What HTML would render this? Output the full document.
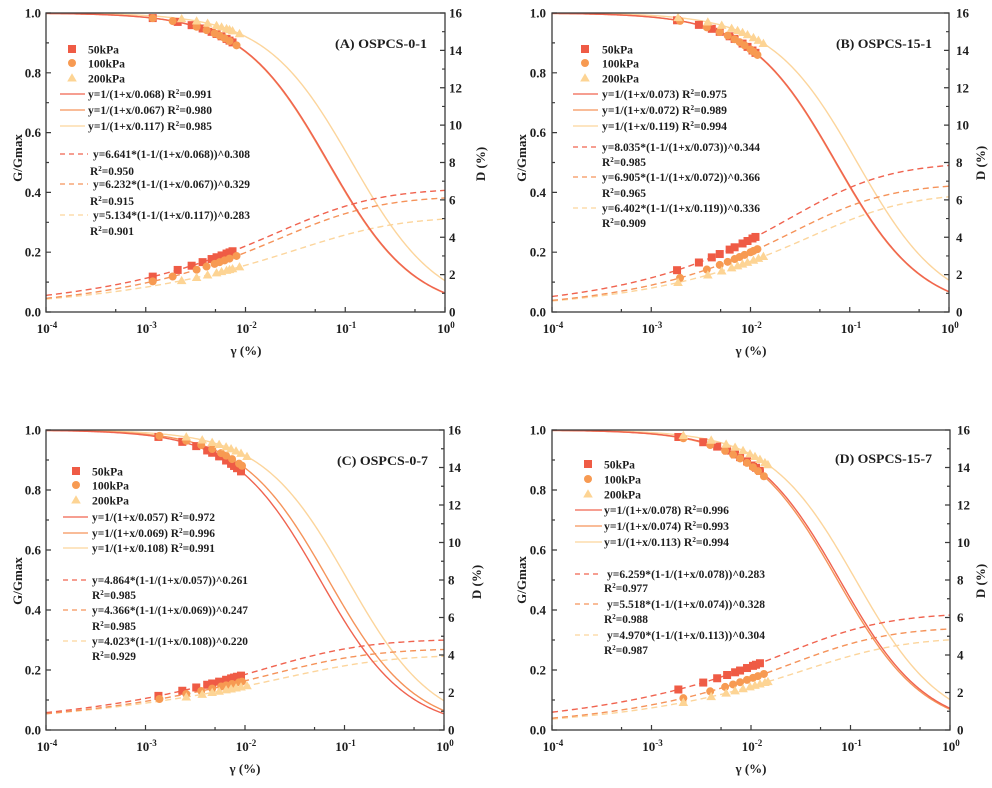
<!DOCTYPE html>
<html>
<head>
<meta charset="utf-8">
<style>
html,body{margin:0;padding:0;background:#fff;}
svg{display:block;}
text{font-family:"Liberation Serif",serif;font-weight:bold;fill:#1e1e1e;}
.tk{font-size:13px;}
.lg{font-size:11.5px;}
.ti{font-size:13px;}
.al{font-size:13px;}
</style>
</head>
<body>
<svg id="c" width="992" height="788" viewBox="0 0 992 788" xmlns="http://www.w3.org/2000/svg">
<rect x="0" y="0" width="992" height="788" fill="#fff"/>
<g id="plots"></g>

<!-- ===== Plot A ===== -->
<g class="tk" text-anchor="end">
<text x="41" y="17.5">1.0</text><text x="41" y="77.3">0.8</text><text x="41" y="137.1">0.6</text>
<text x="41" y="196.9">0.4</text><text x="41" y="256.7">0.2</text><text x="41" y="316.5">0.0</text>
</g>
<g class="tk">
<text x="449" y="17.5">16</text><text x="449" y="54.9">14</text><text x="449" y="92.3">12</text>
<text x="449" y="129.6">10</text><text x="449" y="167">8</text><text x="449" y="204.4">6</text>
<text x="449" y="241.8">4</text><text x="449" y="279.1">2</text><text x="449" y="316.5">0</text>
</g>
<g class="tk" text-anchor="middle">
<text x="47" y="333">10<tspan dy="-5" font-size="9">-4</tspan></text>
<text x="146.5" y="333">10<tspan dy="-5" font-size="9">-3</tspan></text>
<text x="246.5" y="333">10<tspan dy="-5" font-size="9">-2</tspan></text>
<text x="346" y="333">10<tspan dy="-5" font-size="9">-1</tspan></text>
<text x="446" y="333">10<tspan dy="-5" font-size="9">0</tspan></text>
</g>
<text class="al" x="246" y="355" text-anchor="middle">γ (%)</text>
<text class="al" transform="translate(22,158) rotate(-90)" text-anchor="middle">G/Gmax</text>
<text class="al" transform="translate(485,164) rotate(-90)" text-anchor="middle">D (%)</text>
<text class="ti" x="335" y="48" textLength="92" lengthAdjust="spacingAndGlyphs">(A) OSPCS-0-1</text>
<g class="lg">
<rect x="68" y="45" width="8" height="8" fill="#EF5B45"/>
<circle cx="72" cy="63" r="4" fill="#F79A52"/>
<polygon points="72,73.2 76.8,81.5 67.2,81.5" fill="#FDD494"/>
<text x="88" y="53.5" textLength="31" lengthAdjust="spacingAndGlyphs">50kPa</text><text x="88" y="67.5" textLength="37" lengthAdjust="spacingAndGlyphs">100kPa</text><text x="88" y="82.5" textLength="37" lengthAdjust="spacingAndGlyphs">200kPa</text>
<line x1="60" y1="94" x2="85" y2="94" stroke="#F0634F" stroke-width="1.3"/>
<line x1="60" y1="110" x2="85" y2="110" stroke="#F5935A" stroke-width="1.3"/>
<line x1="60" y1="126" x2="85" y2="126" stroke="#FCD59C" stroke-width="1.3"/>
<text x="88" y="98" textLength="124" lengthAdjust="spacingAndGlyphs">y=1/(1+x/0.068) R<tspan dy="-4" font-size="7">2</tspan><tspan dy="4">=0.991</tspan></text>
<text x="88" y="114" textLength="124" lengthAdjust="spacingAndGlyphs">y=1/(1+x/0.067) R<tspan dy="-4" font-size="7">2</tspan><tspan dy="4">=0.980</tspan></text>
<text x="88" y="130" textLength="124" lengthAdjust="spacingAndGlyphs">y=1/(1+x/0.117) R<tspan dy="-4" font-size="7">2</tspan><tspan dy="4">=0.985</tspan></text>
<line x1="60" y1="154" x2="88" y2="154" stroke="#F0634F" stroke-width="1.3" stroke-dasharray="5,4"/>
<line x1="60" y1="184" x2="88" y2="184" stroke="#F5935A" stroke-width="1.3" stroke-dasharray="5,4"/>
<line x1="60" y1="215" x2="88" y2="215" stroke="#FCD59C" stroke-width="1.3" stroke-dasharray="5,4"/>
<text x="93" y="158" textLength="157" lengthAdjust="spacingAndGlyphs">y=6.641*(1-1/(1+x/0.068))^0.308</text>
<text x="90" y="175" textLength="44" lengthAdjust="spacingAndGlyphs">R<tspan dy="-4" font-size="7">2</tspan><tspan dy="4">=0.950</tspan></text>
<text x="93" y="188" textLength="157" lengthAdjust="spacingAndGlyphs">y=6.232*(1-1/(1+x/0.067))^0.329</text>
<text x="90" y="205" textLength="44" lengthAdjust="spacingAndGlyphs">R<tspan dy="-4" font-size="7">2</tspan><tspan dy="4">=0.915</tspan></text>
<text x="93" y="219" textLength="157" lengthAdjust="spacingAndGlyphs">y=5.134*(1-1/(1+x/0.117))^0.283</text>
<text x="90" y="235" textLength="44" lengthAdjust="spacingAndGlyphs">R<tspan dy="-4" font-size="7">2</tspan><tspan dy="4">=0.901</tspan></text>
</g>

<!-- ===== Plot B ===== -->
<g class="tk" text-anchor="end">
<text x="546" y="17.5">1.0</text><text x="546" y="77.3">0.8</text><text x="546" y="137.1">0.6</text>
<text x="546" y="196.9">0.4</text><text x="546" y="256.7">0.2</text><text x="546" y="316.5">0.0</text>
</g>
<g class="tk">
<text x="956" y="17.5">16</text><text x="956" y="54.9">14</text><text x="956" y="92.3">12</text>
<text x="956" y="129.6">10</text><text x="956" y="167">8</text><text x="956" y="204.4">6</text>
<text x="956" y="241.8">4</text><text x="956" y="279.1">2</text><text x="956" y="316.5">0</text>
</g>
<g class="tk" text-anchor="middle">
<text x="553" y="333">10<tspan dy="-5" font-size="9">-4</tspan></text>
<text x="652" y="333">10<tspan dy="-5" font-size="9">-3</tspan></text>
<text x="751.5" y="333">10<tspan dy="-5" font-size="9">-2</tspan></text>
<text x="851" y="333">10<tspan dy="-5" font-size="9">-1</tspan></text>
<text x="950" y="333">10<tspan dy="-5" font-size="9">0</tspan></text>
</g>
<text class="al" x="751" y="355" text-anchor="middle">γ (%)</text>
<text class="al" transform="translate(526,158) rotate(-90)" text-anchor="middle">G/Gmax</text>
<text class="al" transform="translate(985,163) rotate(-90)" text-anchor="middle">D (%)</text>
<text class="ti" x="836" y="48" textLength="96" lengthAdjust="spacingAndGlyphs">(B) OSPCS-15-1</text>
<g class="lg">
<rect x="581" y="45" width="8" height="8" fill="#EF5B45"/>
<circle cx="585" cy="63" r="4" fill="#F79A52"/>
<polygon points="585,73.2 589.8,81.5 580.2,81.5" fill="#FDD494"/>
<text x="602" y="53.5" textLength="31" lengthAdjust="spacingAndGlyphs">50kPa</text><text x="602" y="67.5" textLength="37" lengthAdjust="spacingAndGlyphs">100kPa</text><text x="602" y="82.5" textLength="37" lengthAdjust="spacingAndGlyphs">200kPa</text>
<line x1="573" y1="94" x2="598" y2="94" stroke="#F0634F" stroke-width="1.3"/>
<line x1="573" y1="110" x2="598" y2="110" stroke="#F5935A" stroke-width="1.3"/>
<line x1="573" y1="126" x2="598" y2="126" stroke="#FCD59C" stroke-width="1.3"/>
<text x="602" y="98" textLength="125" lengthAdjust="spacingAndGlyphs">y=1/(1+x/0.073) R<tspan dy="-4" font-size="7">2</tspan><tspan dy="4">=0.975</tspan></text>
<text x="602" y="114" textLength="125" lengthAdjust="spacingAndGlyphs">y=1/(1+x/0.072) R<tspan dy="-4" font-size="7">2</tspan><tspan dy="4">=0.989</tspan></text>
<text x="602" y="130" textLength="125" lengthAdjust="spacingAndGlyphs">y=1/(1+x/0.119) R<tspan dy="-4" font-size="7">2</tspan><tspan dy="4">=0.994</tspan></text>
<line x1="573" y1="147" x2="598" y2="147" stroke="#F0634F" stroke-width="1.3" stroke-dasharray="5,4"/>
<line x1="573" y1="177" x2="598" y2="177" stroke="#F5935A" stroke-width="1.3" stroke-dasharray="5,4"/>
<line x1="573" y1="208" x2="598" y2="208" stroke="#FCD59C" stroke-width="1.3" stroke-dasharray="5,4"/>
<text x="602" y="151" textLength="158" lengthAdjust="spacingAndGlyphs">y=8.035*(1-1/(1+x/0.073))^0.344</text>
<text x="602" y="166" textLength="44" lengthAdjust="spacingAndGlyphs">R<tspan dy="-4" font-size="7">2</tspan><tspan dy="4">=0.985</tspan></text>
<text x="602" y="181" textLength="158" lengthAdjust="spacingAndGlyphs">y=6.905*(1-1/(1+x/0.072))^0.366</text>
<text x="602" y="197" textLength="44" lengthAdjust="spacingAndGlyphs">R<tspan dy="-4" font-size="7">2</tspan><tspan dy="4">=0.965</tspan></text>
<text x="602" y="212" textLength="158" lengthAdjust="spacingAndGlyphs">y=6.402*(1-1/(1+x/0.119))^0.336</text>
<text x="602" y="227" textLength="44" lengthAdjust="spacingAndGlyphs">R<tspan dy="-4" font-size="7">2</tspan><tspan dy="4">=0.909</tspan></text>
</g>

<!-- ===== Plot C ===== -->
<g class="tk" text-anchor="end">
<text x="41" y="434.5">1.0</text><text x="41" y="494.5">0.8</text><text x="41" y="554.5">0.6</text>
<text x="41" y="614.5">0.4</text><text x="41" y="674.5">0.2</text><text x="41" y="734.5">0.0</text>
</g>
<g class="tk">
<text x="448" y="434.5">16</text><text x="448" y="472">14</text><text x="448" y="509.5">12</text>
<text x="448" y="547">10</text><text x="448" y="584.5">8</text><text x="448" y="622">6</text>
<text x="448" y="659.5">4</text><text x="448" y="697">2</text><text x="448" y="734.5">0</text>
</g>
<g class="tk" text-anchor="middle">
<text x="47" y="751">10<tspan dy="-5" font-size="9">-4</tspan></text>
<text x="146.5" y="751">10<tspan dy="-5" font-size="9">-3</tspan></text>
<text x="246" y="751">10<tspan dy="-5" font-size="9">-2</tspan></text>
<text x="345.5" y="751">10<tspan dy="-5" font-size="9">-1</tspan></text>
<text x="445" y="751">10<tspan dy="-5" font-size="9">0</tspan></text>
</g>
<text class="al" x="245" y="773" text-anchor="middle">γ (%)</text>
<text class="al" transform="translate(22,581) rotate(-90)" text-anchor="middle">G/Gmax</text>
<text class="al" transform="translate(481,582) rotate(-90)" text-anchor="middle">D (%)</text>
<text class="ti" x="337" y="465" textLength="91" lengthAdjust="spacingAndGlyphs">(C) OSPCS-0-7</text>
<g class="lg">
<rect x="72" y="467" width="8" height="8" fill="#EF5B45"/>
<circle cx="76" cy="485" r="4" fill="#F79A52"/>
<polygon points="76,495.2 80.8,503.5 71.2,503.5" fill="#FDD494"/>
<text x="92" y="475.5" textLength="31" lengthAdjust="spacingAndGlyphs">50kPa</text><text x="92" y="489.5" textLength="37" lengthAdjust="spacingAndGlyphs">100kPa</text><text x="92" y="504.5" textLength="37" lengthAdjust="spacingAndGlyphs">200kPa</text>
<line x1="63" y1="517" x2="88" y2="517" stroke="#F0634F" stroke-width="1.3"/>
<line x1="63" y1="533" x2="88" y2="533" stroke="#F5935A" stroke-width="1.3"/>
<line x1="63" y1="548" x2="88" y2="548" stroke="#FCD59C" stroke-width="1.3"/>
<text x="92" y="521" textLength="123" lengthAdjust="spacingAndGlyphs">y=1/(1+x/0.057) R<tspan dy="-4" font-size="7">2</tspan><tspan dy="4">=0.972</tspan></text>
<text x="92" y="537" textLength="123" lengthAdjust="spacingAndGlyphs">y=1/(1+x/0.069) R<tspan dy="-4" font-size="7">2</tspan><tspan dy="4">=0.996</tspan></text>
<text x="92" y="552" textLength="123" lengthAdjust="spacingAndGlyphs">y=1/(1+x/0.108) R<tspan dy="-4" font-size="7">2</tspan><tspan dy="4">=0.991</tspan></text>
<line x1="63" y1="580" x2="88" y2="580" stroke="#F0634F" stroke-width="1.3" stroke-dasharray="5,4"/>
<line x1="63" y1="610" x2="88" y2="610" stroke="#F5935A" stroke-width="1.3" stroke-dasharray="5,4"/>
<line x1="63" y1="641" x2="88" y2="641" stroke="#FCD59C" stroke-width="1.3" stroke-dasharray="5,4"/>
<text x="92" y="584" textLength="156" lengthAdjust="spacingAndGlyphs">y=4.864*(1-1/(1+x/0.057))^0.261</text>
<text x="92" y="599" textLength="44" lengthAdjust="spacingAndGlyphs">R<tspan dy="-4" font-size="7">2</tspan><tspan dy="4">=0.985</tspan></text>
<text x="92" y="614" textLength="156" lengthAdjust="spacingAndGlyphs">y=4.366*(1-1/(1+x/0.069))^0.247</text>
<text x="92" y="630" textLength="44" lengthAdjust="spacingAndGlyphs">R<tspan dy="-4" font-size="7">2</tspan><tspan dy="4">=0.985</tspan></text>
<text x="92" y="645" textLength="156" lengthAdjust="spacingAndGlyphs">y=4.023*(1-1/(1+x/0.108))^0.220</text>
<text x="92" y="660" textLength="44" lengthAdjust="spacingAndGlyphs">R<tspan dy="-4" font-size="7">2</tspan><tspan dy="4">=0.929</tspan></text>
</g>

<!-- ===== Plot D ===== -->
<g class="tk" text-anchor="end">
<text x="546" y="434.5">1.0</text><text x="546" y="494.5">0.8</text><text x="546" y="554.5">0.6</text>
<text x="546" y="614.5">0.4</text><text x="546" y="674.5">0.2</text><text x="546" y="734.5">0.0</text>
</g>
<g class="tk">
<text x="957" y="434.5">16</text><text x="957" y="472">14</text><text x="957" y="509.5">12</text>
<text x="957" y="547">10</text><text x="957" y="584.5">8</text><text x="957" y="622">6</text>
<text x="957" y="659.5">4</text><text x="957" y="697">2</text><text x="957" y="734.5">0</text>
</g>
<g class="tk" text-anchor="middle">
<text x="553" y="751">10<tspan dy="-5" font-size="9">-4</tspan></text>
<text x="652.5" y="751">10<tspan dy="-5" font-size="9">-3</tspan></text>
<text x="752" y="751">10<tspan dy="-5" font-size="9">-2</tspan></text>
<text x="851.5" y="751">10<tspan dy="-5" font-size="9">-1</tspan></text>
<text x="951" y="751">10<tspan dy="-5" font-size="9">0</tspan></text>
</g>
<text class="al" x="751" y="773" text-anchor="middle">γ (%)</text>
<text class="al" transform="translate(526,580) rotate(-90)" text-anchor="middle">G/Gmax</text>
<text class="al" transform="translate(985,581) rotate(-90)" text-anchor="middle">D (%)</text>
<text class="ti" x="835" y="463" textLength="97" lengthAdjust="spacingAndGlyphs">(D) OSPCS-15-7</text>
<g class="lg">
<rect x="584" y="460" width="8" height="8" fill="#EF5B45"/>
<circle cx="588" cy="479" r="4" fill="#F79A52"/>
<polygon points="588,489.2 592.8,497.5 583.2,497.5" fill="#FDD494"/>
<text x="604" y="468.5" textLength="31" lengthAdjust="spacingAndGlyphs">50kPa</text><text x="604" y="483.5" textLength="37" lengthAdjust="spacingAndGlyphs">100kPa</text><text x="604" y="498.5" textLength="37" lengthAdjust="spacingAndGlyphs">200kPa</text>
<line x1="575" y1="510" x2="602" y2="510" stroke="#F0634F" stroke-width="1.3"/>
<line x1="575" y1="526" x2="602" y2="526" stroke="#F5935A" stroke-width="1.3"/>
<line x1="575" y1="542" x2="602" y2="542" stroke="#FCD59C" stroke-width="1.3"/>
<text x="604" y="514" textLength="125" lengthAdjust="spacingAndGlyphs">y=1/(1+x/0.078) R<tspan dy="-4" font-size="7">2</tspan><tspan dy="4">=0.996</tspan></text>
<text x="604" y="530" textLength="125" lengthAdjust="spacingAndGlyphs">y=1/(1+x/0.074) R<tspan dy="-4" font-size="7">2</tspan><tspan dy="4">=0.993</tspan></text>
<text x="604" y="546" textLength="125" lengthAdjust="spacingAndGlyphs">y=1/(1+x/0.113) R<tspan dy="-4" font-size="7">2</tspan><tspan dy="4">=0.994</tspan></text>
<line x1="575" y1="574" x2="602" y2="574" stroke="#F0634F" stroke-width="1.3" stroke-dasharray="5,4"/>
<line x1="575" y1="604" x2="602" y2="604" stroke="#F5935A" stroke-width="1.3" stroke-dasharray="5,4"/>
<line x1="575" y1="635" x2="602" y2="635" stroke="#FCD59C" stroke-width="1.3" stroke-dasharray="5,4"/>
<text x="607" y="578" textLength="158" lengthAdjust="spacingAndGlyphs">y=6.259*(1-1/(1+x/0.078))^0.283</text>
<text x="604" y="592" textLength="44" lengthAdjust="spacingAndGlyphs">R<tspan dy="-4" font-size="7">2</tspan><tspan dy="4">=0.977</tspan></text>
<text x="607" y="608" textLength="158" lengthAdjust="spacingAndGlyphs">y=5.518*(1-1/(1+x/0.074))^0.328</text>
<text x="604" y="623" textLength="44" lengthAdjust="spacingAndGlyphs">R<tspan dy="-4" font-size="7">2</tspan><tspan dy="4">=0.988</tspan></text>
<text x="607" y="639" textLength="158" lengthAdjust="spacingAndGlyphs">y=4.970*(1-1/(1+x/0.113))^0.304</text>
<text x="604" y="654" textLength="44" lengthAdjust="spacingAndGlyphs">R<tspan dy="-4" font-size="7">2</tspan><tspan dy="4">=0.987</tspan></text>
</g>
</svg>

<script>
(function(){
var NS='http://www.w3.org/2000/svg';
var root=document.getElementById('plots');
var LC=['#F0634F','#F5935A','#FCD59C'];
var MC=['#EF5B45','#F79A52','#FDD494'];
function el(tag,attrs,parent){var e=document.createElementNS(NS,tag);for(var k in attrs)e.setAttribute(k,attrs[k]);(parent||root).appendChild(e);return e;}
var P=[
 {L:46,R:445,T:13,B:312,a:[0.068,0.067,0.117],d:[6.641,6.232,5.134],n:[0.308,0.329,0.283],
  x:[[-2.93,-2.68,-2.54,-2.43,-2.34,-2.29,-2.24,-2.19,-2.16,-2.13],
     [-2.93,-2.73,-2.49,-2.39,-2.31,-2.26,-2.21,-2.16,-2.09],
     [-2.64,-2.49,-2.38,-2.29,-2.24,-2.19,-2.16,-2.13,-2.06]]},
 {L:552,R:949,T:13,B:312,a:[0.073,0.072,0.119],d:[8.035,6.905,6.402],n:[0.344,0.366,0.336],
  x:[[-2.74,-2.52,-2.39,-2.31,-2.21,-2.16,-2.08,-2.03,-1.98,-1.95],
     [-2.71,-2.44,-2.31,-2.23,-2.16,-2.11,-2.06,-2.0,-1.97,-1.93],
     [-2.73,-2.43,-2.29,-2.19,-2.13,-2.08,-2.03,-1.97,-1.92,-1.87]]},
 {L:46,R:444,T:430,B:730,a:[0.057,0.069,0.108],d:[4.864,4.366,4.023],n:[0.261,0.247,0.220],
  x:[[-2.87,-2.63,-2.49,-2.38,-2.33,-2.26,-2.19,-2.14,-2.11,-2.08,-2.04],
     [-2.86,-2.59,-2.44,-2.33,-2.24,-2.19,-2.13,-2.06,-2.03],
     [-2.59,-2.43,-2.33,-2.26,-2.19,-2.14,-2.09,-2.04,-1.98]]},
 {L:552,R:950,T:430,B:730,a:[0.078,0.074,0.113],d:[6.259,5.518,4.970],n:[0.283,0.328,0.304],
  x:[[-2.73,-2.48,-2.34,-2.24,-2.16,-2.11,-2.04,-1.98,-1.95,-1.91],
     [-2.68,-2.41,-2.26,-2.18,-2.11,-2.04,-1.98,-1.93,-1.87],
     [-2.68,-2.40,-2.25,-2.16,-2.08,-2.01,-1.96,-1.91,-1.86,-1.83]]}
];
P.forEach(function(p,i){
  var W=p.R-p.L,H=p.B-p.T;
  function X(l){return p.L+(l+4)/4*W;}
  function Yg(g){return p.B-g*H;}
  function Yd(d){return p.B-d/16*H;}
  function G(s,x){return 1/(1+x/p.a[s]);}
  function D(s,x){return p.d[s]*Math.pow(1-G(s,x),p.n[s]);}
  var g=el('g',{});
  var cp=el('clipPath',{id:'cl'+i},g);
  el('rect',{x:p.L,y:p.T,width:W,height:H},cp);
  var cg=el('g',{'clip-path':'url(#cl'+i+')'},g);
  for(var s=2;s>=0;s--){
    var pg='',pd='';
    for(var k=0;k<=260;k++){
      var l=-4+4*k/260,x=Math.pow(10,l);
      pg+=(k?'L':'M')+X(l).toFixed(2)+','+Yg(G(s,x)).toFixed(2);
      pd+=(k?'L':'M')+X(l).toFixed(2)+','+Yd(D(s,x)).toFixed(2);
    }
    el('path',{d:pd,fill:'none',stroke:LC[s],'stroke-width':1.4,'stroke-dasharray':'6,4'},cg);
    el('path',{d:pg,fill:'none',stroke:LC[s],'stroke-width':1.4},cg);
  }
  for(var s2=0;s2<3;s2++){
    p.x[s2].forEach(function(l){
      var x=Math.pow(10,l),cx=X(l);
      [Yg(G(s2,x)),Yd(D(s2,x))].forEach(function(cy){
        if(s2===0) el('rect',{x:cx-4,y:cy-4,width:8,height:8,fill:MC[0]},cg);
        else if(s2===1) el('circle',{cx:cx,cy:cy,r:4,fill:MC[1]},cg);
        else el('polygon',{points:cx+','+(cy-4.8)+' '+(cx+4.8)+','+(cy+3.5)+' '+(cx-4.8)+','+(cy+3.5),fill:MC[2]},cg);
      });
    });
  }
  el('rect',{x:p.L,y:p.T,width:W,height:H,fill:'none',stroke:'#3a3a3a','stroke-width':1.3},g);
  var tk='';
  for(var dcd=-4;dcd<=0;dcd++){
    var xx=X(dcd);tk+='M'+xx+','+p.B+'v-5';
    if(dcd<0){var xm=X(dcd+Math.log10(5));tk+='M'+xm+','+p.B+'v-3';}
  }
  for(var v=0;v<=10;v++){
    var yy=p.B-v/10*H;tk+='M'+p.L+','+yy+'h'+(v%2?3:5);
  }
  for(var v2=0;v2<=16;v2++){
    var y2=p.B-v2/16*H;tk+='M'+p.R+','+y2+'h-'+(v2%2?3:5);
  }
  el('path',{d:tk,fill:'none',stroke:'#3a3a3a','stroke-width':1.2},g);
});
})();
</script>
</body>
</html>
